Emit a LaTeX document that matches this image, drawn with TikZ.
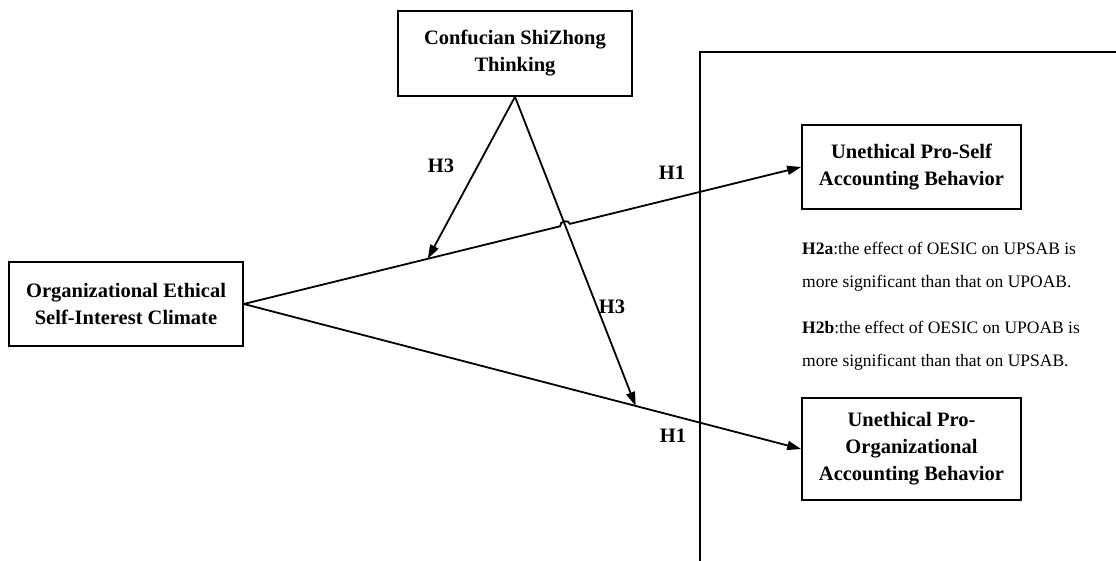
\documentclass[tikz,border=0pt]{standalone}
\usepackage{fontspec}
\setmainfont{Liberation Serif}
\usetikzlibrary{arrows.meta,calc}
\begin{document}
\begin{tikzpicture}[x=1pt,y=-1pt,
  box/.style={draw,line width=1.6pt,align=center,inner sep=0pt,
    font=\bfseries\fontsize{20.5}{27}\selectfont},
  lab/.style={font=\bfseries\fontsize{20.5}{24}\selectfont,inner sep=0pt},
  hyp/.style={align=left,inner sep=0pt,font=\fontsize{17.5}{33}\selectfont},
  arr/.style={line width=1.8pt,-{Triangle[length=14pt,width=9pt]}},
  frame/.style={line width=1.6pt}]
\useasboundingbox (0,0) rectangle (1116,561);
\node[box,minimum width=234pt,minimum height=85pt] (csz) at (515,53.5) {Confucian ShiZhong\\Thinking};
\node[box,minimum width=234pt,minimum height=84pt] (oesic) at (126,304) {Organizational Ethical\\Self-Interest Climate};
\node[box,minimum width=219pt,minimum height=84pt] (upsab) at (911.5,167) {Unethical Pro-Self\\Accounting Behavior};
\node[box,minimum width=219pt,minimum height=102pt] (upoab) at (911.5,449) {Unethical Pro-\\Organizational\\Accounting Behavior};
\coordinate (f1) at (700,562);
\coordinate (f2) at (700,52);
\coordinate (f3) at (1117,52);
\draw[frame] (f1) -- (f2) -- (f3);
\coordinate (t1) at ($(oesic.east)!0.33!(upsab.west)$);
\coordinate (t2) at ($(oesic.east)!0.703!(upoab.west)$);
\coordinate (X) at (intersection of csz.south--t2 and oesic.east--upsab.west);
\draw[arr] (oesic.east) -- ($(X)!5pt!(oesic.east)$) to[bend left=90,looseness=1.3] ($(X)!5pt!(upsab.west)$) -- (upsab.west);
\draw[arr] (oesic.east) -- (upoab.west);
\draw[arr] (csz.south) -- (t1);
\draw[arr] (csz.south) -- (t2);
\node[lab] (h3a) at (441,166) {H3};
\node[lab] (h1a) at (672,173) {H1};
\node[lab] (h3b) at (612,307) {H3};
\node[lab] (h1b) at (673,436) {H1};
\node[hyp,anchor=west] (h2a) at (802,266.5) {\textbf{H2a}:the effect of OESIC on UPSAB is\\more significant than that on UPOAB.};
\node[hyp,anchor=west] (h2b) at (802,346) {\textbf{H2b}:the effect of OESIC on UPOAB is\\more significant than that on UPSAB.};
\end{tikzpicture}
\end{document}
